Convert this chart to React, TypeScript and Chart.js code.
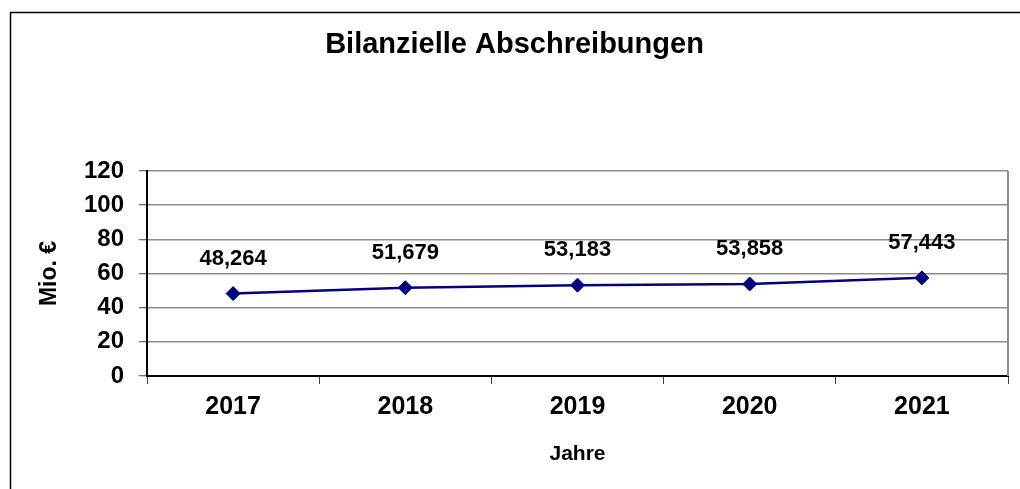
import React, { useEffect, useRef } from "react";
import { Chart, registerables } from "chart.js";

Chart.register(...registerables);

// ---- data ----
const categories = ["2017", "2018", "2019", "2020", "2021"];
const values = [48.264, 51.679, 53.183, 53.858, 57.443];
const yMin = 0;
const yMax = 120;
const yStep = 20;
const chartTitle = "Bilanzielle Abschreibungen";
const yAxisTitle = "Mio. €";
const xAxisTitle = "Jahre";

const FONT = "'Liberation Sans', Arial, Helvetica, sans-serif";
const NAVY = "#000080";

const formatLabel = (v: number) => v.toFixed(3).replace(".", ",");

export default function App() {
  const ref = useRef<HTMLCanvasElement | null>(null);

  useEffect(() => {
    if (!ref.current) return;

    const decor = {
      id: "decor",
      beforeDraw(chart: any) {
        const ctx = chart.ctx;
        ctx.save();
        ctx.fillStyle = "#ffffff";
        ctx.fillRect(0, 0, chart.width, chart.height);
        // outer frame (top and left edges visible)
        ctx.strokeStyle = "#000000";
        ctx.lineWidth = 1.5;
        ctx.beginPath();
        ctx.moveTo(chart.width, 12.5);
        ctx.lineTo(10.5, 12.5);
        ctx.lineTo(10.5, chart.height);
        ctx.stroke();
        // title
        ctx.fillStyle = "#000000";
        ctx.font = `bold 29px ${FONT}`;
        ctx.textAlign = "center";
        ctx.textBaseline = "middle";
        ctx.fillText(chartTitle, 514.5, 45);
        ctx.restore();
      },
      afterDraw(chart: any) {
        const ctx = chart.ctx;
        const { right, top, bottom } = chart.chartArea;
        ctx.save();
        ctx.strokeStyle = "#8c8c8c";
        ctx.lineWidth = 2;
        ctx.beginPath();
        ctx.moveTo(right, top);
        ctx.lineTo(right, bottom);
        ctx.stroke();

        // data labels
        const meta = chart.getDatasetMeta(0);
        ctx.fillStyle = "#000000";
        ctx.font = `bold 22px ${FONT}`;
        ctx.textAlign = "center";
        ctx.textBaseline = "middle";
        meta.data.forEach((pt: any, i: number) => {
          ctx.fillText(formatLabel(values[i]), pt.x, pt.y - 35);
        });
        ctx.restore();
      },
    };

    const chart = new Chart(ref.current, {
      type: "line",
      data: {
        labels: categories,
        datasets: [
          {
            data: values,
            borderColor: NAVY,
            backgroundColor: NAVY,
            borderWidth: 2.5,
            pointStyle: "rectRot",
            pointRadius: 7,
            pointBorderWidth: 1,
            pointBackgroundColor: NAVY,
            pointBorderColor: NAVY,
            tension: 0,
          },
        ],
      },
      options: {
        animation: false,
        responsive: false,
        devicePixelRatio: 1,
        layout: { padding: { left: 0, right: 12, top: 171, bottom: 0 } },
        plugins: {
          legend: { display: false },
          tooltip: { enabled: false },
          title: { display: false },
        },
        scales: {
          x: {
            type: "category",
            offset: true,
            grid: {
              offset: true,
              drawOnChartArea: false,
              drawTicks: true,
              tickLength: 8,
              tickColor: "#404040",
              tickWidth: 1,
            },
            border: { display: true, color: "#000000", width: 2 },
            ticks: {
              color: "#000000",
              font: { family: FONT, size: 25, weight: "bold" },
              padding: 8,
              maxRotation: 0,
            },
            title: {
              display: true,
              text: xAxisTitle,
              color: "#000000",
              font: { family: FONT, size: 21, weight: "bold" },
              padding: { top: 0, bottom: 22 },
            },
            afterFit(scale: any) {
              scale.height = 113;
            },
          },
          y: {
            min: yMin,
            max: yMax,
            grid: {
              color: "#8c8c8c",
              lineWidth: 1.5,
              tickLength: 8,
              tickColor: "#404040",
              tickWidth: 1,
            },
            border: { display: true, color: "#000000", width: 2 },
            ticks: {
              stepSize: yStep,
              color: "#000000",
              font: { family: FONT, size: 24, weight: "bold" },
              padding: 15,
            },
            title: {
              display: true,
              text: yAxisTitle,
              color: "#000000",
              font: { family: FONT, size: 23, weight: "bold" },
              padding: { top: 36, bottom: 0 },
            },
            afterFit(scale: any) {
              scale.width = 147;
            },
          },
        },
      },
      plugins: [decor],
    } as any);

    return () => chart.destroy();
  }, []);

  return (
    <div
      style={{
        position: "fixed",
        left: 0,
        top: 0,
        width: 1020,
        height: 489,
        background: "#ffffff",
      }}
    >
      <canvas
        ref={ref}
        width={1020}
        height={489}
        style={{ display: "block", width: 1020, height: 489 }}
      />
    </div>
  );
}
